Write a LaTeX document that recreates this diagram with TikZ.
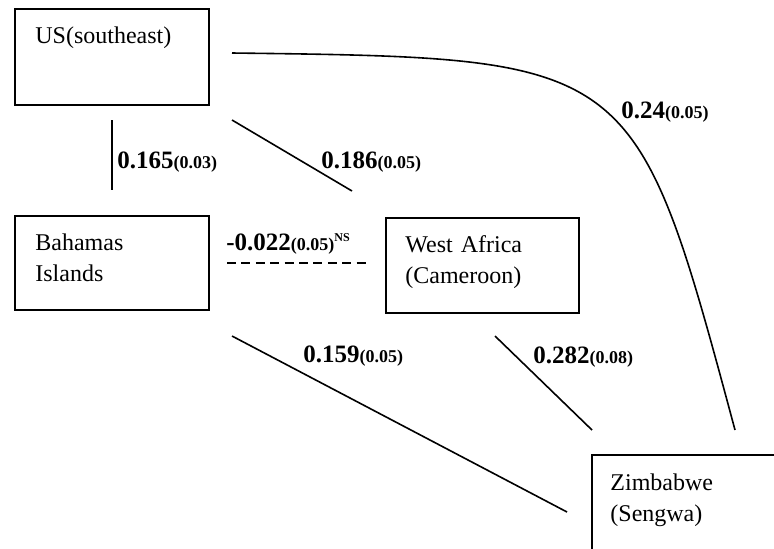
\documentclass[tikz,border=0pt]{standalone}
\usepackage{fontspec}
\setmainfont{Liberation Serif}
\usetikzlibrary{positioning}

\newcommand{\coef}[2]{{\fontsize{12.5}{15}\selectfont\bfseries #1}{\fontsize{9}{11}\selectfont\bfseries(#2)}}

\begin{document}
\begin{tikzpicture}[
      x=0.5pt,y=-0.5pt,
      areabox/.style={draw,line width=1pt,anchor=north west,inner sep=0pt},
      place/.style={anchor=base west,align=left,text width=90pt,inner sep=0pt,font=\fontsize{12}{15.5}\selectfont},
      link/.style={line width=0.8pt},
      est/.style={anchor=base west,inner sep=0pt}
    ]
      \useasboundingbox (0,0) rectangle (774,548);
      \clip (0,0) rectangle (774,548);
      \node[areabox,minimum width=97pt,minimum height=48pt] (us) at (14,8) {};
      \node[areabox,minimum width=97pt,minimum height=47pt] (bahamas) at (14,215) {};
      \node[areabox,minimum width=96.5pt,minimum height=47.5pt] (africa) at (385,217) {};
      \node[areabox,minimum width=110pt,minimum height=70pt] (zimbabwe) at (591,454) {};
      \node[place] (usname) at ([shift={(21,35)}]us.north west) {US(southeast)};
      \node[place] (bahamasname) at ([shift={(21,35)}]bahamas.north west) {Bahamas\\Islands};
      \node[place] (africaname) at ([shift={(20,35)}]africa.north west) {West Africa\\(Cameroon)};
      \node[place] (zimbabwename) at ([shift={(19,36)}]zimbabwe.north west) {Zimbabwe\\(Sengwa)};
      \draw[link] ([shift={(0,14)}]us.south) -- ([shift={(0,-25)}]bahamas.north);
      \draw[link] ([shift={(22,14)}]us.south east) -- ([shift={(-33,-26)}]africa.north west);
      \draw[link] ([shift={(22,-4)}]us.east) .. controls (635,58) .. ([shift={(144,-24)}]zimbabwe.north west);
      \draw[link,dash pattern=on 4.5pt off 2.7pt,shorten <=8.5pt,shorten >=8.5pt] (bahamas.east) -- (africa.west |- bahamas.east);
      \draw[link] ([shift={(22,25)}]bahamas.south east) -- ([shift={(-24,58)}]zimbabwe.north west);
      \draw[link] ([shift={(12.5,22)}]africa.south) -- ([shift={(1,-24)}]zimbabwe.north west);
      \node[est] (usbah) at (117,168) {\coef{0.165}{0.03}};
      \node[est] (usafr) at (321,168) {\coef{0.186}{0.05}};
      \node[est] (uszim) at (621,118) {\coef{0.24}{0.05}};
      \node[est] (bahafr) at (226,250) {\coef{-0.022}{0.05}\raisebox{4.5pt}{\fontsize{6}{6}\selectfont\bfseries NS}};
      \node[est] (bahzim) at (303,362) {\coef{0.159}{0.05}};
      \node[est] (afrzim) at (533,363) {\coef{0.282}{0.08}};
    \end{tikzpicture}
\end{document}
